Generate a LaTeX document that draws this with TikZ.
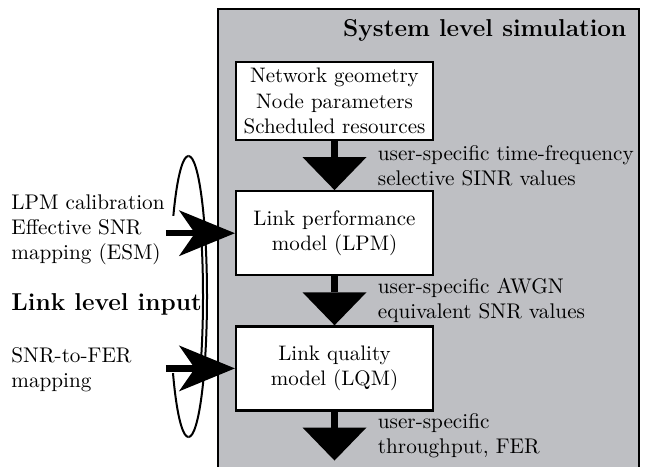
\documentclass[tikz,border=0pt]{standalone}
\usepackage{tikz}
\usetikzlibrary{arrows.meta,positioning,calc}
\definecolor{slsGrey}{HTML}{BEBFC3}

\begin{document}
\begin{tikzpicture}[
    x=0.5pt, y=-0.5pt,
    panel/.style={draw, line width=0.9pt, fill=slsGrey, inner sep=0pt},
    blk/.style={draw, line width=1.1pt, fill=white, minimum width=98.5pt,
                align=center, inner sep=2pt, font=\fontsize{10.5}{12.9}\selectfont},
    lbl/.style={align=left, inner sep=2pt, font=\fontsize{10.6}{12.6}\selectfont},
    hd/.style={inner sep=2pt, font=\fontsize{12.2}{14.5}\selectfont\bfseries},
    flow/.style={line width=3.4pt,
                 -{Triangle[length=16.5pt, width=32pt, line width=0pt]}},
    feed/.style={line width=3.2pt,
                 -{Stealth[length=28pt, width=23pt, inset=8pt, line width=0pt]}},
    ring/.style={line width=1pt},
  ]
  \useasboundingbox (0,0) rectangle (646,466);

  \node[panel, anchor=north west, minimum width=210.5pt, minimum height=240pt]
    (sys) at (217,8) {};
  \node[hd, anchor=north east] (ttl) at ([xshift=-4.5pt, yshift=-3.5pt]sys.north east)
    {System level simulation};

  \node[blk, minimum height=39pt] (geo) at (334.5,101)
    {Network geometry\\Node parameters\\Scheduled resources};
  \node[blk, minimum height=42pt, below=24.5pt of geo] (lpm)
    {Link performance\\model (LPM)};
  \node[blk, minimum height=42pt, below=24.5pt of lpm] (lqm)
    {Link quality\\model (LQM)};
  \coordinate[below=24.5pt of lqm] (out);

  \draw[flow] (geo) -- node[lbl, right=18pt] (sinr)
    {user-specific time-frequency\\selective SINR values} (lpm);
  \draw[flow] (lpm) -- node[lbl, right=18pt] (awgn)
    {user-specific AWGN\\equivalent SNR values} (lqm);
  \draw[flow] (lqm) -- node[lbl, right=18pt] (thr)
    {user-specific\\throughput, FER} (out);

  % loop round the link level inputs
  \begin{scope}
    \clip (188.5,140) rectangle (240,450);
    \draw[ring] (188.5,296.5) ellipse [x radius=9.25pt, y radius=70.25pt];
  \end{scope}
  \begin{scope}
    \clip (150,140) rectangle (188.5,215);
    \draw[ring] (188.5,296.5) ellipse [x radius=9.25pt, y radius=70.25pt];
  \end{scope}
  \begin{scope}
    \clip (150,373) rectangle (188.5,450);
    \draw[ring] (188.5,296.5) ellipse [x radius=9.25pt, y radius=70.25pt];
  \end{scope}
  \begin{scope}
    \clip (188.5,238) rectangle (240,356);
    \draw[ring] (184.5,296.5) ellipse [x radius=9.25pt, y radius=70.25pt];
  \end{scope}

  \node[lbl, anchor=west] (calib) at (7,230)
    {LPM calibration\\Effective SNR\\mapping (ESM)};
  \node[hd, anchor=west] (lli) at (7,304) {Link level input};
  \node[lbl, anchor=west] (snrfer) at (7,370) {SNR-to-FER\\mapping};

  \coordinate[left=34.5pt of lpm.west] (cal);
  \coordinate[left=34.5pt of lqm.west] (fer);
  \draw[feed] (cal) -- (lpm.west);
  \draw[feed] (fer) -- (lqm.west);

\end{tikzpicture}
\end{document}
